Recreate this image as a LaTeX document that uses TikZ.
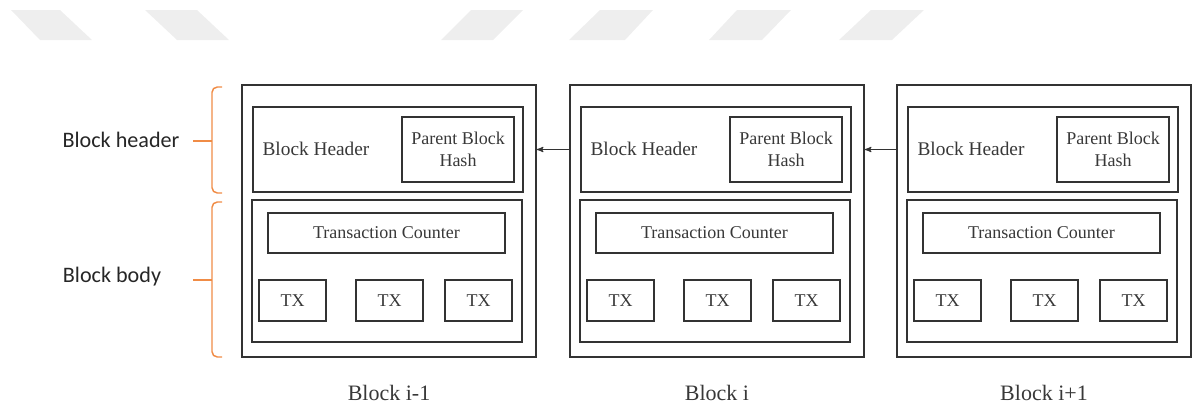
\documentclass[tikz,border=0pt]{standalone}
\usepackage{fontspec}
\setmainfont{Liberation Serif}
\newfontfamily\labelfont{Carlito}
\usepackage{tikz}
\usetikzlibrary{arrows}
\definecolor{boxline}{HTML}{333333}
\definecolor{txtgray}{HTML}{383838}
\definecolor{bracecol}{RGB}{240,140,70}
\definecolor{wmgray}{HTML}{EEEEEE}
\tikzset{blk/.style={draw=boxline, line width=1.3pt, inner sep=0pt,
   minimum width=220.5pt, minimum height=204pt}}
\tikzset{hdr/.style={draw=boxline, line width=1.3pt, inner sep=0pt,
   minimum width=202.5pt, minimum height=63.75pt}}
\tikzset{phash/.style={draw=boxline, line width=1.3pt, inner sep=0pt, align=center,
   text=txtgray, font=\fontsize{13.5}{16.5}\selectfont,
   minimum width=84pt, minimum height=48.75pt}}
\tikzset{bdy/.style={draw=boxline, line width=1.3pt, inner sep=0pt,
   minimum width=202.5pt, minimum height=106.5pt}}
\tikzset{cnt/.style={draw=boxline, line width=1.3pt, inner sep=0pt,
   text=txtgray, font=\fontsize{13.5}{16.5}\selectfont,
   minimum width=177.75pt, minimum height=30pt}}
\tikzset{tx/.style={draw=boxline, line width=1.3pt, inner sep=0pt,
   text=txtgray, font=\fontsize{13.5}{16.5}\selectfont,
   minimum width=50.25pt, minimum height=30.75pt}}
\tikzset{hdrtext/.style={text=txtgray, font=\fontsize{14.5}{17}\selectfont}}
\tikzset{blklabel/.style={text=txtgray, font=\fontsize{16.5}{20}\selectfont}}
\tikzset{sidelabel/.style={text=black!85, font=\labelfont\fontsize{16.6}{20}\selectfont}}
\tikzset{brc/.style={draw=bracecol, line width=1.1pt, rounded corners=4pt}}
\tikzset{link/.style={->, >=stealth', draw=boxline, line width=0.8pt}}

\begin{document}
\begin{tikzpicture}[x=0.75pt, y=-0.75pt]
   \useasboundingbox (0,0) rectangle (1198,407);

   \fill[wmgray] (11,10) -- (60,10) -- (92,40) -- (40,40) -- cycle;
   \fill[wmgray] (145,10) -- (197,10) -- (229,40) -- (177,40) -- cycle;
   \fill[wmgray] (471,10) -- (523,10) -- (493,40) -- (441,40) -- cycle;
   \fill[wmgray] (600,10) -- (653,10) -- (625,40) -- (569,40) -- cycle;
   \fill[wmgray] (737,10) -- (791,10) -- (762,40) -- (709,40) -- cycle;
   \fill[wmgray] (871,10) -- (924,10) -- (892,40) -- (839,40) -- cycle;

   \node[sidelabel] (hl) at (121,140) {Block header};
   \node[sidelabel] (bl) at (112,277) {Block body};
   \draw[brc] (222,87) -- (212,87) -- (212,193) -- (222,193);
   \draw[brc] (212,141) -- (193,141);
   \draw[brc] (222,202) -- (212,202) -- (212,357) -- (222,357);
   \draw[brc] (212,280) -- (193,280);

   \node[blk] (B0) at (389,221) {};
   \node[hdr] (H0) at (388,149.5) {};
   \node[hdrtext] (N0) at (316,149) {Block Header};
   \node[phash] (P0) at (458,149.5) {Parent Block\\Hash};
   \node[bdy] (D0) at (387,271) {};
   \node[cnt] (C0) at (386.5,233) {Transaction Counter};
   \node[tx] (T0a) at (292.5,300.5) {TX};
   \node[tx] (T0b) at (389.5,300.5) {TX};
   \node[tx] (T0c) at (478.5,300.5) {TX};
   \node[blklabel] (L0) at (389,393) {Block i-1};

   \node[blk] (B1) at (717,221) {};
   \node[hdr] (H1) at (716,149.5) {};
   \node[hdrtext] (N1) at (644,149) {Block Header};
   \node[phash] (P1) at (786,149.5) {Parent Block\\Hash};
   \node[bdy] (D1) at (715,271) {};
   \node[cnt] (C1) at (714.5,233) {Transaction Counter};
   \node[tx] (T1a) at (620.5,300.5) {TX};
   \node[tx] (T1b) at (717.5,300.5) {TX};
   \node[tx] (T1c) at (806.5,300.5) {TX};
   \node[blklabel] (L1) at (717,393) {Block i};

   \node[blk] (B2) at (1044,221) {};
   \node[hdr] (H2) at (1043,149.5) {};
   \node[hdrtext] (N2) at (971,149) {Block Header};
   \node[phash] (P2) at (1113,149.5) {Parent Block\\Hash};
   \node[bdy] (D2) at (1042,271) {};
   \node[cnt] (C2) at (1041.5,233) {Transaction Counter};
   \node[tx] (T2a) at (947.5,300.5) {TX};
   \node[tx] (T2b) at (1044.5,300.5) {TX};
   \node[tx] (T2c) at (1133.5,300.5) {TX};
   \node[blklabel] (L2) at (1044,393) {Block i+1};

   \draw[link] (B1.west |- H1.center) -- (B0.east |- H1.center);
   \draw[link] (B2.west |- H2.center) -- (B1.east |- H2.center);
\end{tikzpicture}
\end{document}
